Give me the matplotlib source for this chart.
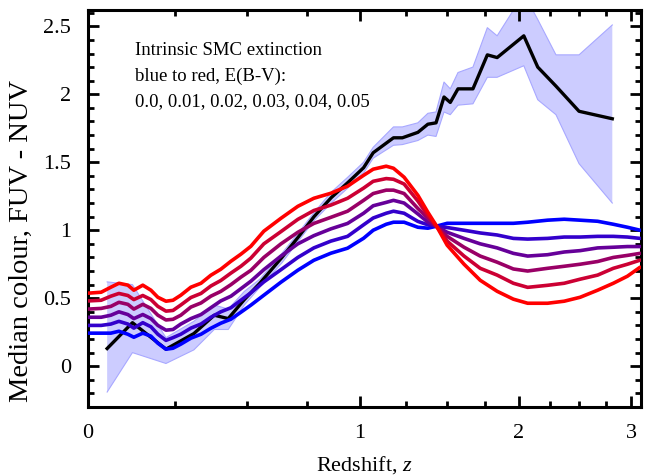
import numpy as np
import matplotlib
matplotlib.use('Agg')
import matplotlib.pyplot as plt
from matplotlib.ticker import FixedLocator, MultipleLocator, FuncFormatter

plt.rcParams['font.family'] = ['Liberation Serif', 'DejaVu Serif']
plt.rcParams['mathtext.fontset'] = 'custom'
plt.rcParams['mathtext.rm'] = 'Liberation Serif'
plt.rcParams['mathtext.it'] = 'Liberation Serif:italic'

# model tracks: redshift grid and median FUV-NUV colour per E(B-V)
Z = [0.0, 0.034, 0.06, 0.082, 0.107, 0.124, 0.15, 0.174, 0.195, 0.22, 0.242, 0.267,
     0.30, 0.334, 0.368, 0.403, 0.44, 0.477, 0.515, 0.566, 0.636, 0.708, 0.779, 0.858,
     0.939, 1.02, 1.07, 1.14, 1.18, 1.24, 1.32, 1.38, 1.43, 1.50, 1.61, 1.72, 1.84,
     1.96, 2.07, 2.23, 2.37, 2.51, 2.67, 2.82, 2.96, 3.09]

EBV_000 = [0.243, 0.243, 0.243, 0.257, 0.235, 0.213, 0.243, 0.221, 0.169, 0.125, 0.132, 0.162,
           0.206, 0.235, 0.279, 0.316, 0.346, 0.397, 0.449, 0.522, 0.618, 0.706, 0.779, 0.831,
           0.868, 0.941, 1.0, 1.044, 1.059, 1.059, 1.022, 1.015, 1.029, 1.051, 1.051, 1.051,
           1.051, 1.051, 1.059, 1.074, 1.081, 1.074, 1.066, 1.044, 1.022, 1.0]
EBV_001 = [0.30, 0.30, 0.31, 0.33, 0.31, 0.28, 0.32, 0.29, 0.235, 0.19, 0.21, 0.235,
           0.28, 0.31, 0.36, 0.40, 0.43, 0.485, 0.54, 0.62, 0.71, 0.80, 0.87, 0.92,
           0.955, 1.04, 1.09, 1.125, 1.14, 1.125, 1.065, 1.04, 1.03, 1.02, 1.0, 0.98,
           0.965, 0.94, 0.935, 0.94, 0.95, 0.95, 0.955, 0.955, 0.95, 0.94]
EBV_002 = [0.36, 0.36, 0.375, 0.40, 0.38, 0.35, 0.38, 0.35, 0.30, 0.265, 0.27, 0.31,
           0.35, 0.38, 0.43, 0.48, 0.515, 0.57, 0.625, 0.71, 0.81, 0.90, 0.96, 1.01,
           1.05, 1.125, 1.18, 1.205, 1.22, 1.20, 1.12, 1.06, 1.03, 0.985, 0.94, 0.90,
           0.87, 0.83, 0.81, 0.82, 0.84, 0.85, 0.87, 0.875, 0.88, 0.88]
EBV_003 = [0.42, 0.425, 0.44, 0.47, 0.455, 0.42, 0.455, 0.425, 0.375, 0.34, 0.345, 0.375,
           0.435, 0.465, 0.515, 0.55, 0.60, 0.655, 0.705, 0.80, 0.90, 0.985, 1.05, 1.095,
           1.14, 1.22, 1.27, 1.295, 1.295, 1.27, 1.16, 1.09, 1.03, 0.955, 0.875, 0.81,
           0.765, 0.715, 0.70, 0.72, 0.735, 0.75, 0.77, 0.80, 0.815, 0.83]
EBV_004 = [0.48, 0.485, 0.515, 0.535, 0.52, 0.49, 0.52, 0.49, 0.44, 0.405, 0.41, 0.45,
           0.505, 0.535, 0.59, 0.63, 0.685, 0.735, 0.795, 0.90, 0.99, 1.08, 1.145, 1.185,
           1.235, 1.31, 1.36, 1.38, 1.375, 1.34, 1.215, 1.11, 1.035, 0.92, 0.81, 0.72,
           0.67, 0.61, 0.58, 0.595, 0.61, 0.64, 0.67, 0.72, 0.75, 0.78]
EBV_005 = [0.537, 0.544, 0.581, 0.610, 0.596, 0.559, 0.596, 0.559, 0.507, 0.478, 0.485, 0.522,
           0.581, 0.610, 0.669, 0.713, 0.772, 0.824, 0.882, 0.993, 1.088, 1.176, 1.235, 1.272,
           1.324, 1.404, 1.449, 1.471, 1.456, 1.390, 1.257, 1.132, 1.037, 0.890, 0.750, 0.632,
           0.551, 0.493, 0.463, 0.463, 0.478, 0.507, 0.559, 0.610, 0.662, 0.728]

TRACKS = [EBV_000, EBV_001, EBV_002, EBV_003, EBV_004, EBV_005]
TRACK_COLOURS = ['#0000ff', '#3300cc', '#660099', '#990066', '#cc0033', '#ff0000']

# observed median colour in redshift bins, with its spread
OBS_Z = [0.05, 0.12, 0.22, 0.31, 0.38, 0.43, 0.49, 0.55, 0.64, 0.71, 0.78, 0.86, 0.94,
         1.02, 1.07, 1.18, 1.23, 1.32, 1.38, 1.43, 1.48, 1.52, 1.57, 1.67, 1.77, 1.84,
         2.04, 2.15, 2.30, 2.50, 2.81]
OBS_MED = [0.13, 0.32, 0.125, 0.24, 0.375, 0.35, 0.49, 0.61, 0.80, 0.95, 1.10, 1.24, 1.35,
           1.46, 1.57, 1.68, 1.68, 1.72, 1.78, 1.79, 1.98, 1.94, 2.04, 2.04, 2.29, 2.27,
           2.43, 2.20, 2.06, 1.875, 1.82]
OBS_HI = [0.62, 0.60, 0.21, 0.33, 0.45, 0.42, 0.55, 0.64, 0.83, 0.98, 1.13, 1.28, 1.39,
          1.50, 1.61, 1.76, 1.76, 1.79, 1.86, 1.87, 2.09, 2.04, 2.16, 2.20, 2.49, 2.43,
          2.74, 2.55, 2.29, 2.29, 2.51]
OBS_LO = [-0.19, 0.10, 0.02, 0.12, 0.27, 0.27, 0.45, 0.58, 0.76, 0.92, 1.07, 1.20, 1.31,
          1.42, 1.53, 1.625, 1.63, 1.66, 1.70, 1.69, 1.87, 1.85, 1.92, 1.93, 2.125, 2.125,
          2.21, 1.96, 1.85, 1.49, 1.20]

NOTE = ['Intrinsic SMC extinction', 'blue to red, E(B-V):',
        '0.0, 0.01, 0.02, 0.03, 0.04, 0.05']


def fwd(z):
    return np.log10(1 + np.asarray(z, dtype=float))


def inv(x):
    return 10 ** np.asarray(x, dtype=float) - 1


fig = plt.figure(figsize=(6.54, 4.76), dpi=100)
ax = fig.add_axes([0.1346, 0.145, 0.8456, 0.834])
ax.set_xscale('function', functions=(fwd, inv))

ax.fill_between(OBS_Z, OBS_LO, OBS_HI, facecolor='#ccccff', edgecolor='none', zorder=1)
ax.plot(OBS_Z, OBS_HI, color='#a8a8ff', lw=0.8, zorder=1)
ax.plot(OBS_Z, OBS_LO, color='#a8a8ff', lw=0.8, zorder=1)
ax.plot(OBS_Z, OBS_MED, color='black', lw=2.4, zorder=2)

for track, col in zip(TRACKS, TRACK_COLOURS):
    ax.plot(Z, track, color=col, lw=2.6, zorder=3, solid_capstyle='round')

ax.set_xlim(0, 3.1)
ax.set_ylim(-0.3, 2.62)

ax.xaxis.set_major_locator(FixedLocator([0, 1, 2, 3]))
ax.xaxis.set_minor_locator(FixedLocator([0.25, 0.5, 0.75, 1.25, 1.5, 1.75,
                                         2.25, 2.5, 2.75]))
ax.yaxis.set_major_locator(MultipleLocator(0.5))
ax.yaxis.set_minor_locator(MultipleLocator(0.1))
ax.xaxis.set_major_formatter(FuncFormatter(lambda v, p: '%g' % v))
ax.yaxis.set_major_formatter(FuncFormatter(lambda v, p: '%g' % v))

ax.tick_params(which='both', direction='in', top=True, right=True, width=2)
ax.tick_params(which='major', length=8, labelsize=16, pad=12)
ax.tick_params(which='minor', length=4)
for sp in ax.spines.values():
    sp.set_linewidth(2.2)

ax.set_xlabel('Redshift, $z$', fontsize=16, labelpad=8)
ax.set_ylabel('Median colour, FUV - NUV', fontsize=20.5)
ax.yaxis.set_label_coords(-0.097, 0.418)

for i, line in enumerate(NOTE):
    ax.text(0.085, 0.898 - i * 0.064, line, transform=ax.transAxes,
            fontsize=13.5, va='center', ha='left')

fig.savefig('out.png', dpi=100)
